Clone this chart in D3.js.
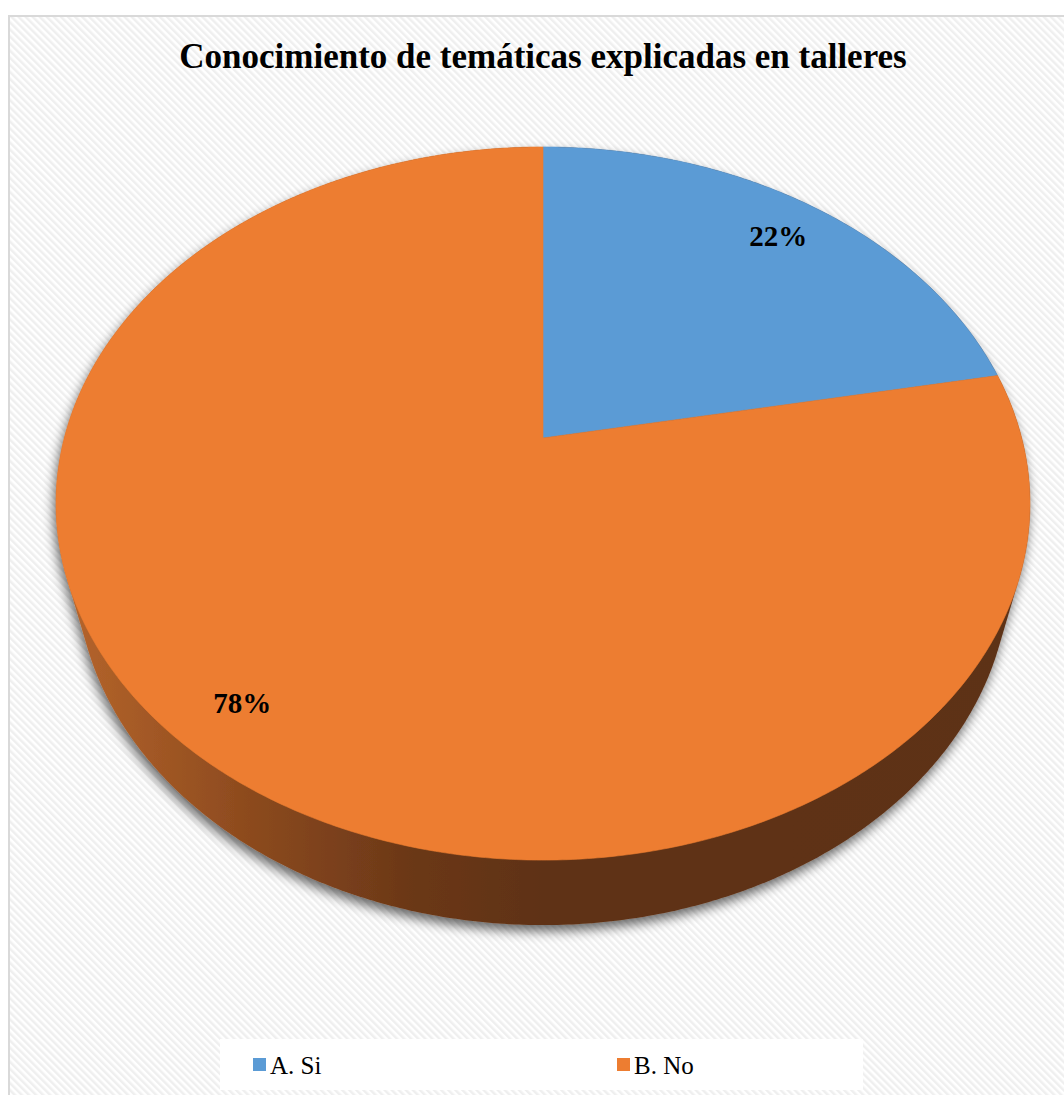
<!DOCTYPE html>
<html>
<head>
<meta charset="utf-8">
<script src="https://cdn.jsdelivr.net/npm/d3@7"></script>
<style>
  html, body { margin: 0; padding: 0; background: #ffffff; }
  svg { display: block; }
  svg text { font-family: "Liberation Serif", "DejaVu Serif", "Times New Roman", Times, serif; }
</style>
</head>
<body>
<svg id="chart" width="1064" height="1095"></svg>
<script>
// Chart data
const title = "Conocimiento de temáticas explicadas en talleres";
const categories = ["A. Si", "B. No"];
const values = [22, 78];
const colors = ["#5B9BD5", "#ED7D31"];

const W = 1064, H = 1095;
const svg = d3.select("#chart");
const defs = svg.append("defs");

// Diagonal striped chart background
const pat = defs.append("pattern")
  .attr("id", "stripes")
  .attr("patternUnits", "userSpaceOnUse")
  .attr("width", 5).attr("height", 5)
  .attr("patternTransform", "rotate(-45)");
pat.append("rect").attr("width", 5).attr("height", 5).attr("fill", "#ffffff");
pat.append("rect").attr("width", 2.5).attr("height", 5).attr("fill", "#efefef");

svg.append("rect")
  .attr("x", 9).attr("y", 16).attr("width", W).attr("height", H)
  .attr("fill", "url(#stripes)")
  .attr("stroke", "#d9d9d9").attr("stroke-width", 2);

// Title
svg.append("text")
  .attr("x", 543).attr("y", 68)
  .attr("text-anchor", "middle")
  .attr("font-weight", "bold")
  .attr("font-size", 35)
  .attr("fill", "#000")
  .text(title);

// Perspective projection of a tilted disk (3D pie)
const view = {
  cx: 543, cy: 438,     // screen position of the pie centre
  f: 1808.5,            // focal scale
  R: 0.2647,            // disk radius (camera distance = 1)
  tilt: Math.asin(0.7197),
  depth: 0.0586         // thickness of the pie
};
const sinA = Math.sin(view.tilt), cosA = Math.cos(view.tilt);
function project(theta, rho, y) {
  const x = rho * view.R * Math.sin(theta);
  const z = rho * view.R * Math.cos(theta);
  const D = 1 - y * sinA + z * cosA;
  const up = y * cosA + z * sinA;
  return [view.cx + view.f * x / D, view.cy - view.f * up / D];
}

const arcs = d3.pie().sort(null).value(d => d)(values);

// Shadow filter under the pie body
const shadow = defs.append("filter").attr("id", "shadow")
  .attr("x", "-10%").attr("y", "-10%").attr("width", "120%").attr("height", "125%");
shadow.append("feGaussianBlur").attr("in", "SourceAlpha").attr("stdDeviation", 6).attr("result", "b");
shadow.append("feOffset").attr("in", "b").attr("dx", -2).attr("dy", 6).attr("result", "o");
shadow.append("feComponentTransfer").attr("in", "o").attr("result", "s")
  .append("feFuncA").attr("type", "linear").attr("slope", 0.6);
const fm = shadow.append("feMerge");
fm.append("feMergeNode").attr("in", "s");
fm.append("feMergeNode").attr("in", "SourceGraphic");

// Side wall gradient
const grad = defs.append("linearGradient")
  .attr("id", "side").attr("gradientUnits", "userSpaceOnUse")
  .attr("x1", 55).attr("y1", 0).attr("x2", 1030).attr("y2", 0);
[[0, "#b8662c"], [0.2, "#8c4a1e"], [0.36, "#6c3818"], [0.5, "#5f3215"], [1, "#5d3015"]]
  .forEach(([o, c]) => grad.append("stop").attr("offset", o).attr("stop-color", c));

// Pie body: outline of top and bottom rims
const rimPts = [];
const steps = 720;
for (let i = 0; i < steps; i++) {
  const t = (i / steps) * 2 * Math.PI;
  rimPts.push(project(t, 1, 0));
  rimPts.push(project(t, 1, -view.depth));
}
const hull = d3.polygonHull(rimPts);
svg.append("path")
  .attr("d", "M" + hull.map(p => p.join(",")).join("L") + "Z")
  .attr("fill", "url(#side)")
  .attr("filter", "url(#shadow)");

// Top face slices
const line = d3.line();
arcs.forEach((a, i) => {
  const pts = [project(0, 0, 0)];
  const n = Math.max(8, Math.ceil((a.endAngle - a.startAngle) / (Math.PI / 360)));
  for (let k = 0; k <= n; k++) {
    const t = a.startAngle + (a.endAngle - a.startAngle) * k / n;
    pts.push(project(t, 1, 0));
  }
  svg.append("path")
    .attr("d", line(pts) + "Z")
    .attr("fill", colors[i])
    .attr("stroke", colors[i])
    .attr("stroke-width", 0.6)
    .attr("stroke-linejoin", "round");
});

// Percentage labels
const total = d3.sum(values);
arcs.forEach((a, i) => {
  const mid = (a.startAngle + a.endAngle) / 2;
  const [lx, ly] = project(mid, 0.865, 0);
  svg.append("text")
    .attr("x", lx).attr("y", ly + 13)
    .attr("text-anchor", "middle")
    .attr("font-weight", "bold")
    .attr("font-size", 29)
    .attr("fill", "#000")
    .text(Math.round(values[i] / total * 100) + "%");
});

// Legend
svg.append("rect")
  .attr("x", 220).attr("y", 1039).attr("width", 643).attr("height", 51)
  .attr("fill", "#ffffff");
const legendX = [253, 617];
categories.forEach((c, i) => {
  svg.append("rect")
    .attr("x", legendX[i]).attr("y", 1058).attr("width", 13).attr("height", 13)
    .attr("fill", colors[i]);
  svg.append("text")
    .attr("x", legendX[i] + 17).attr("y", 1074)
    .attr("font-size", 25)
    .attr("fill", "#000")
    .text(c);
});
</script>
</body>
</html>
